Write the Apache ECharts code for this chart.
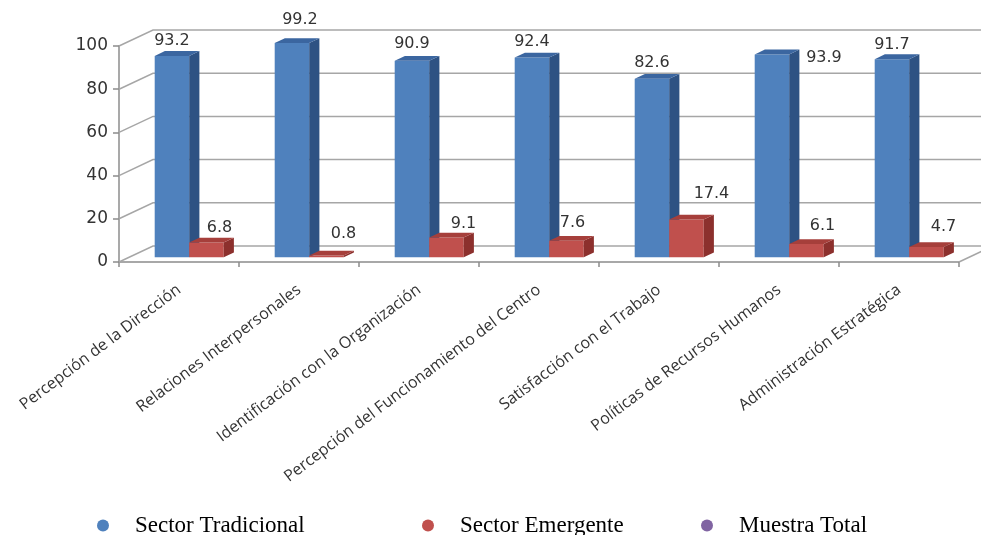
<!DOCTYPE html>
<html>
<head>
<meta charset="utf-8">
<script src="https://cdn.jsdelivr.net/npm/echarts@6/dist/echarts.min.js"></script>
<style>
  html, body { margin: 0; padding: 0; background: #fff; }
  #chart { width: 981px; height: 535px; }
</style>
</head>
<body>
<div id="chart"></div>
<script>
// ---- data ----
const categories = [
  'Percepción de la Dirección',
  'Relaciones Interpersonales',
  'Identificación con la Organización',
  'Percepción del Funcionamiento del Centro',
  'Satisfacción con el Trabajo',
  'Políticas de Recursos Humanos',
  'Administración Estratégica'
];
const sectorTradicional = [93.2, 99.2, 90.9, 92.4, 82.6, 93.9, 91.7];
const sectorEmergente = [6.8, 0.8, 9.1, 7.6, 17.4, 6.1, 4.7];
const muestraTotal = [];
const yTicks = [0, 20, 40, 60, 80, 100];

// ---- layout ----
// value-label offsets [dx, dy] from the top centre of each bar's front face
const tradLabelShift = [[0, -15], [8, -23], [0, -17], [0, -16], [0, -16], [52, 3], [0, -14]];
const emerLabelShift = [[13, -15], [17, -22], [17, -14], [6, -18], [25, -26], [16, -18], [17, -20]];

const DEPTH_X = 34, DEPTH_Y = 16;   // pseudo-3D depth of floor and walls
const BAR_Z0 = 0.3, BAR_Z1 = 0.6;   // bar front / back as fraction of depth
const BAR_FRAC = 0.2875;            // bar width relative to category band
const GRID_COLOR = '#a6a6a6';

const faces = {
  trad: { front: '#4F81BD', side: '#2E5283', top: '#3B66A0' },
  emer: { front: '#C0504D', side: '#8C302D', top: '#A63F3B' }
};

function barRenderer(slot, face, shifts) {
  return function (params, api) {
    const i = api.value(0), v = api.value(1);
    const base = api.coord([i, 0]);
    const top = api.coord([i, v]);
    const band = api.size([1, 0])[0];
    const w = band * BAR_FRAC;
    const ox = DEPTH_X * BAR_Z0, oy = DEPTH_Y * BAR_Z0;
    const dx = DEPTH_X * (BAR_Z1 - BAR_Z0), dy = DEPTH_Y * (BAR_Z1 - BAR_Z0);
    const x0 = base[0] + (slot === 0 ? -w : 0) + ox;
    const x1 = x0 + w;
    const yb = base[1] - oy, yt = top[1] - oy;
    const s = shifts[params.dataIndex];
    return {
      type: 'group',
      children: [
        { type: 'polygon', shape: { points: [[x0, yt], [x1, yt], [x1, yb], [x0, yb]] }, style: { fill: face.front } },
        { type: 'polygon', shape: { points: [[x1, yt], [x1 + dx, yt - dy], [x1 + dx, yb - dy], [x1, yb]] }, style: { fill: face.side } },
        { type: 'polygon', shape: { points: [[x0, yt], [x1, yt], [x1 + dx, yt - dy], [x0 + dx, yt - dy]] }, style: { fill: face.top } },
        {
          type: 'text', x: (x0 + x1) / 2 + s[0], y: yt + s[1],
          style: {
            text: v.toFixed(1), fill: '#333', fontSize: 16, fontFamily: 'DejaVu Sans',
            align: 'center', verticalAlign: 'middle'
          }
        }
      ]
    };
  };
}

// back wall gridlines, left wall slants and the floor edge
function frameRenderer(params, api) {
  const v = api.value(1);
  const band = api.size([1, 0])[0];
  const first = api.coord([0, v]);
  const last = api.coord([categories.length - 1, v]);
  const xl = first[0] - band / 2, xr = last[0] + band / 2, y = first[1];
  const children = [{
    type: 'polyline',
    shape: { points: [[xl, y], [xl + DEPTH_X, y - DEPTH_Y], [xr + DEPTH_X, y - DEPTH_Y]] },
    style: { stroke: GRID_COLOR, lineWidth: 1.5, fill: null }
  }];
  if (v === 0) {
    children.push({
      type: 'line',
      shape: { x1: xr, y1: y, x2: xr + DEPTH_X, y2: y - DEPTH_Y },
      style: { stroke: GRID_COLOR, lineWidth: 1.5 }
    });
  }
  return { type: 'group', children: children };
}

const legendCommon = {
  orient: 'horizontal',
  top: 509,
  itemWidth: 12,
  itemHeight: 12,
  selectedMode: false,
  textStyle: {
    fontFamily: 'Liberation Serif', fontSize: 23, color: '#000',
    padding: [0, 0, 0, 21]
  }
};

const chart = echarts.init(document.getElementById('chart'), null, { renderer: 'canvas' });
chart.setOption({
  animation: false,
  backgroundColor: '#fff',
  grid: { left: 119, right: 22, top: 46, bottom: 273, containLabel: false },
  legend: [
    Object.assign({ left: 92, data: [{ name: 'Sector Tradicional', icon: 'circle' }] }, legendCommon),
    Object.assign({ left: 417, data: [{ name: 'Sector Emergente', icon: 'circle' }] }, legendCommon),
    Object.assign({ left: 696, data: [{ name: 'Muestra Total', icon: 'circle' }] }, legendCommon)
  ],
  xAxis: {
    type: 'category',
    data: categories,
    axisLine: { show: true, lineStyle: { color: '#8c8c8c', width: 1.5 } },
    axisTick: { show: true, length: 5, lineStyle: { color: '#8c8c8c', width: 1.5 } },
    axisLabel: {
      interval: 0, rotate: 37, margin: 26,
      fontFamily: 'Open Sans', fontSize: 16, color: '#333'
    },
    splitLine: { show: false }
  },
  yAxis: {
    type: 'value',
    min: 0, max: 100, interval: 20,
    axisLine: { show: true, lineStyle: { color: '#8c8c8c', width: 1.5 } },
    axisTick: { show: true, length: 6, lineStyle: { color: '#8c8c8c', width: 1.5 } },
    axisLabel: { margin: 11, fontFamily: 'DejaVu Sans', fontSize: 17, color: '#333' },
    splitLine: { show: false }
  },
  series: [
    {
      type: 'custom', name: 'frame', silent: true, clip: false, z: 1,
      data: yTicks.map(v => [0, v]),
      encode: { x: 0, y: 1 },
      renderItem: frameRenderer
    },
    {
      type: 'custom', name: 'Sector Tradicional', clip: false, z: 3,
      itemStyle: { color: faces.trad.front },
      data: sectorTradicional.map((v, i) => [i, v]),
      encode: { x: 0, y: 1 },
      renderItem: barRenderer(0, faces.trad, tradLabelShift)
    },
    {
      type: 'custom', name: 'Sector Emergente', clip: false, z: 4,
      itemStyle: { color: faces.emer.front },
      data: sectorEmergente.map((v, i) => [i, v]),
      encode: { x: 0, y: 1 },
      renderItem: barRenderer(1, faces.emer, emerLabelShift)
    },
    {
      type: 'custom', name: 'Muestra Total', clip: false,
      itemStyle: { color: '#8064A2' },
      data: muestraTotal,
      renderItem: function () { return null; }
    }
  ]
});
</script>
</body>
</html>
